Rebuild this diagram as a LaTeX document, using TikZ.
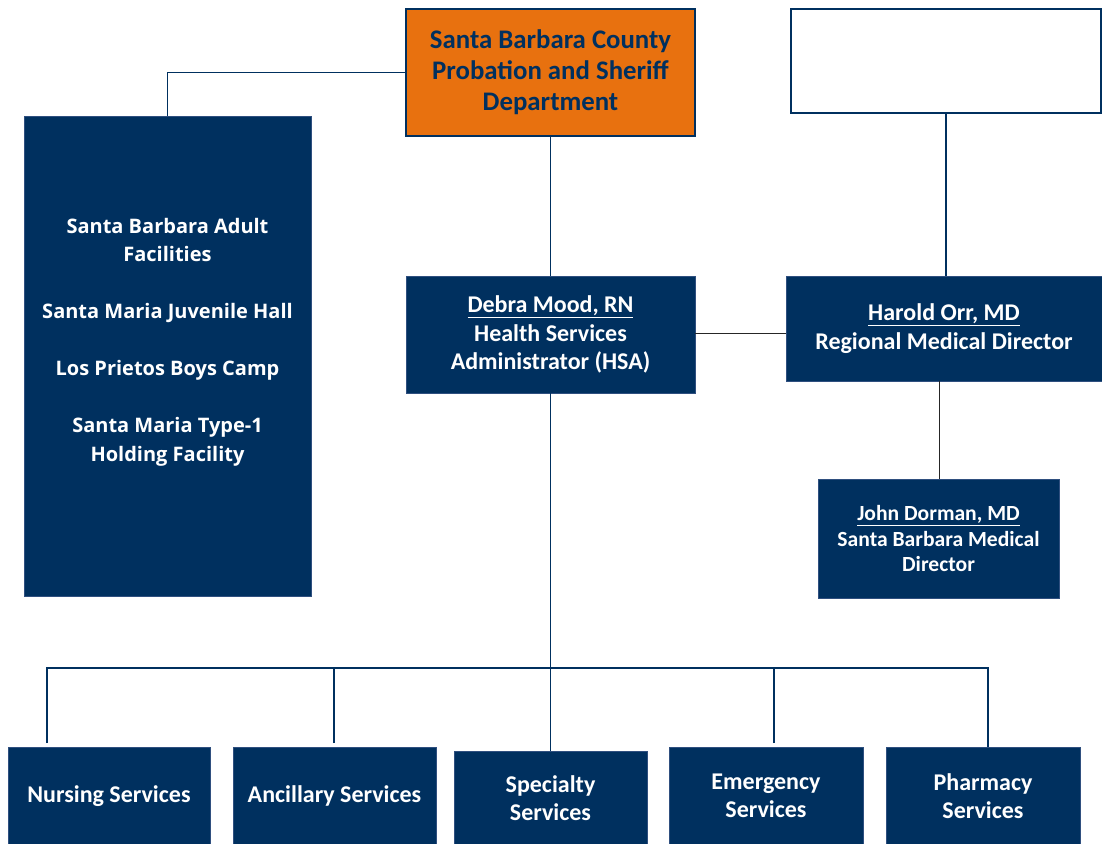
\documentclass[tikz,border=0pt]{standalone}
\usepackage{fontspec}
\setmainfont{Carlito}
\newfontfamily\osans{Open Sans}
\definecolor{navy}{HTML}{00305F}
\definecolor{orng}{HTML}{E8710F}
\definecolor{bordr}{HTML}{2F4F7F}
\begin{document}
\begin{tikzpicture}[x=1pt,y=-1pt,
  navybox/.style={rectangle, inner sep=0pt, outer sep=0pt, fill=navy, draw=bordr, line width=0.6pt, text=white, align=center},
  conn/.style={draw=navy, line width=1.5pt},
  thin/.style={draw=black!85, line width=1pt},
  f22/.style={font=\bfseries\fontsize{26.8}{31}\selectfont},
  f20/.style={font=\bfseries\fontsize{24}{28.5}\selectfont},
  f18/.style={font=\bfseries\fontsize{21.6}{25.5}\selectfont}]
\useasboundingbox (0,0) rectangle (1102,843);
% boxes
\node[rectangle, inner sep=0pt, fill=orng, draw=navy, line width=1.2pt, minimum width=289pt, minimum height=127pt, text=navy, align=center, f22] (top) at (550.5,72.5) {Santa Barbara County\\Probation and Sheriff\\Department};
\node[rectangle, inner sep=0pt, fill=white, draw=navy, line width=2pt, minimum width=310pt, minimum height=104pt] (empty) at (946,61) {};
\node[navybox, minimum width=287pt, minimum height=480pt] (left) at (167.5,356) {};
\node[text=white, align=center, font=\osans\bfseries\fontsize{20}{28.5}\selectfont] (lefttext) at (167.5,342) {Santa Barbara Adult\\Facilities\\[28.5pt]Santa Maria Juvenile Hall\\[28.5pt]Los Prietos Boys Camp\\[28.5pt]Santa Maria Type-1\\Holding Facility};
\node[navybox, f20, minimum width=289pt, minimum height=117pt] (debra) at (550.5,334.5) {\underline{Debra Mood, RN}\\Health Services\\Administrator (HSA)};
\node[navybox, f20, minimum width=316pt, minimum height=105pt] (harold) at (944,328.5) {\underline{Harold Orr, MD}\\Regional Medical Director};
\node[navybox, f18, minimum width=241pt, minimum height=119pt] (john) at (938.5,538.5) {\underline{John Dorman, MD}\\Santa Barbara Medical\\Director};
\node[navybox, f20, minimum width=202pt, minimum height=98pt] (nurs) at (109,796) {Nursing Services};
\node[navybox, f20, minimum width=203pt, minimum height=98pt] (anc) at (334.5,796) {Ancillary Services};
\node[navybox, f20, minimum width=193pt, minimum height=94pt] (spec) at (550.5,798) {Specialty\\Services};
\node[navybox, f20, minimum width=194pt, minimum height=98pt] (emer) at (766,796) {Emergency\\Services};
\node[navybox, f20, minimum width=194pt, minimum height=98pt] (pharm) at (983,796) {Pharmacy\\Services};
% connectors
\coordinate (bus) at (550.5,668);
\draw[conn] (left.north) |- (top.west);
\draw[conn] (top.south) -- (debra.north);
\draw[conn] (debra.south) -- (bus);
\draw[conn] (empty.south) -- (empty.south |- harold.north);
\draw[thin] (debra.east |- 0,333) -- (harold.west |- 0,333);
\draw[thin] (939,381) -- (john.north -| 939,0);
\draw[conn] (47,743) |- (bus) -| (988,747);
\draw[conn] (334,743) -- (334,668);
\draw[conn] (774,743) -- (774,668);
\draw[conn] (bus) -- (spec.north);
\end{tikzpicture}
\end{document}
